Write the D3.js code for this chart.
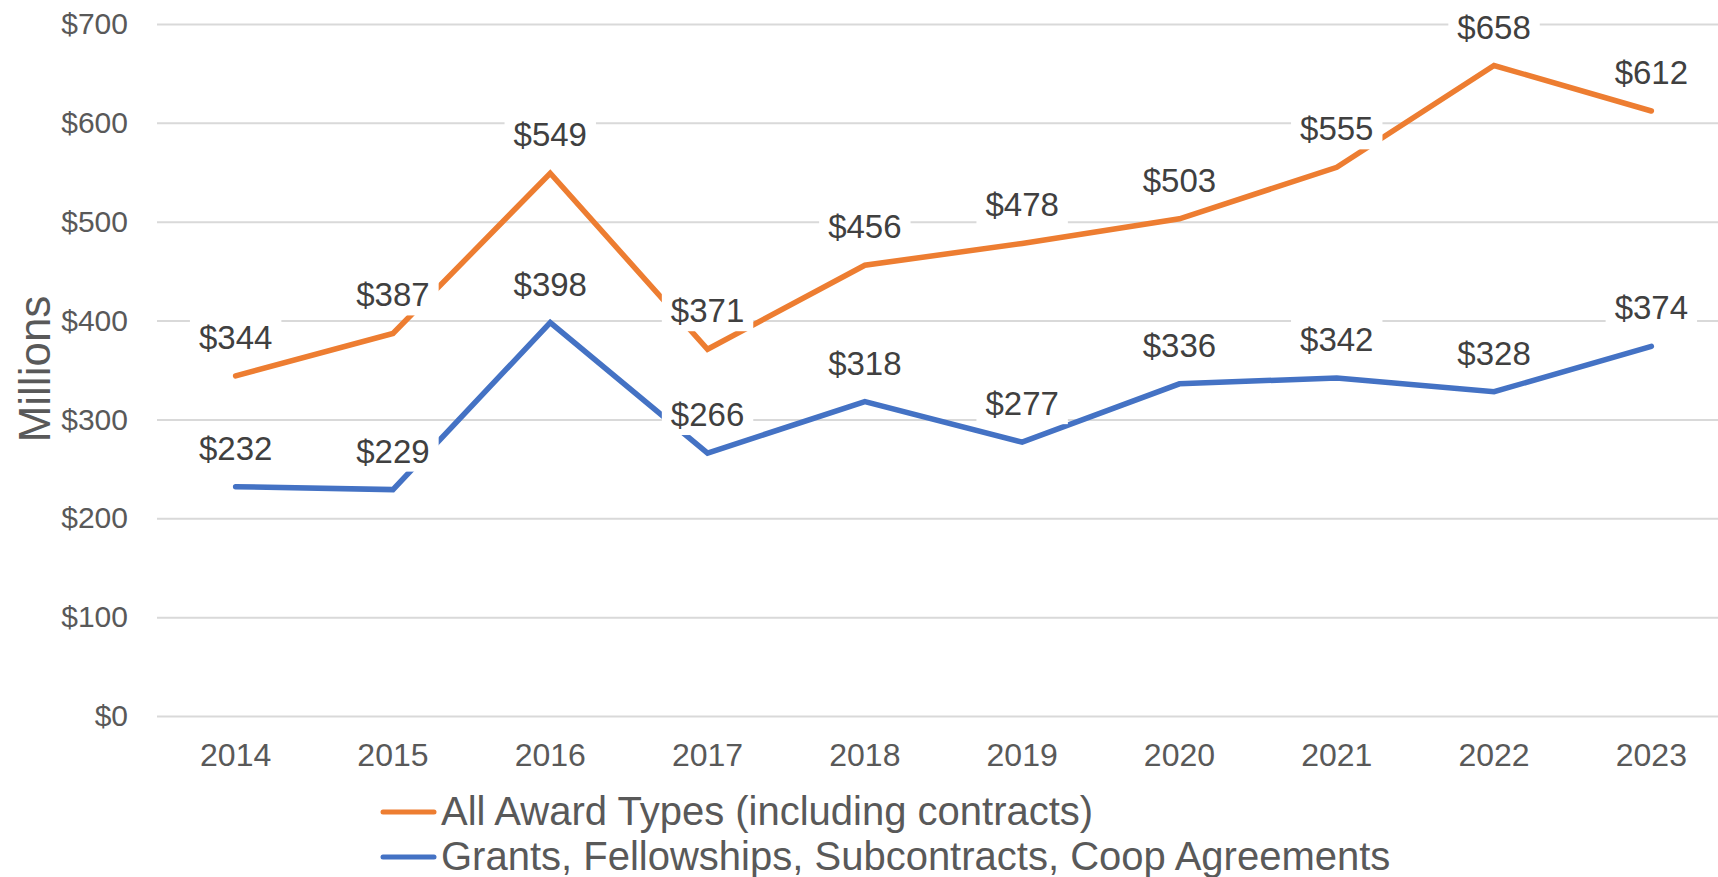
<!DOCTYPE html>
<html>
<head>
<meta charset="utf-8">
<script src="https://cdn.jsdelivr.net/npm/d3@7"></script>
<style>
  body { margin: 0; background: #fff; }
  svg { display: block; font-family: "Liberation Sans", Arial, sans-serif; }
</style>
</head>
<body>
<svg id="chart" width="1718" height="877"></svg>
<script>
const years = ['2014', '2015', '2016', '2017', '2018', '2019', '2020', '2021', '2022', '2023']
const allAwards = [344, 387, 549, 371, 456, 478, 503, 555, 658, 612]
const grants = [232, 229, 398, 266, 318, 277, 336, 342, 328, 374]
const yTicks = [0, 100, 200, 300, 400, 500, 600, 700]
const seriesNames = ['All Award Types (including contracts)', 'Grants, Fellowships, Subcontracts, Coop Agreements']

const colors = ['#ED7D31', '#4472C4']
const size = { width: 1718, height: 877 }
const plot = { left: 157, right: 1730, top: 24, bottom: 716 }

const svg = d3.select('#chart')

// scales
var x = d3.scaleBand().domain(years).range([plot.left, plot.right])
var y = d3.scaleLinear().domain([0, 700]).range([plot.bottom, plot.top])
const cx = d => x(d) + x.bandwidth() / 2
const money = v => '$' + v

// gridlines + y labels
const yAxis = svg.append('g')
    .attr('transform', `translate(${plot.left},0)`)
    .call(d3.axisLeft(y).tickValues(yTicks).tickSize(-(size.width - plot.left)).tickPadding(29).tickFormat(money))
yAxis.select('.domain').remove()
yAxis.selectAll('.tick line').attr('stroke', '#D9D9D9').attr('stroke-width', 2)
yAxis.selectAll('.tick text')
    .attr('fill', '#595959').attr('font-size', 30).attr('font-family', null)

// x labels
const xAxis = svg.append('g')
    .attr('transform', `translate(0,${plot.bottom})`)
    .call(d3.axisBottom(x).tickSize(0).tickPadding(27))
xAxis.select('.domain').remove()
xAxis.selectAll('.tick text')
    .attr('fill', '#595959').attr('font-size', 32).attr('font-family', null)

// y title
svg.append('text')
    .attr('transform', 'translate(50,369) rotate(-90)')
    .attr('text-anchor', 'middle')
    .attr('fill', '#595959')
    .attr('font-size', 44)
    .text('Millions')

// lines
const line = d3.line().x((d, i) => cx(years[i])).y(d => y(d))
const series = [allAwards, grants]
series.forEach((s, k) => {
    svg.append('path')
        .datum(s)
        .attr('fill', 'none')
        .attr('stroke', colors[k])
        .attr('stroke-width', 5.5)
        .attr('stroke-linejoin', 'miter')
        .attr('stroke-linecap', 'round')
        .attr('d', line)
})

// data labels with white boxes
series.forEach(s => {
    const g = svg.append('g')
    s.forEach((v, i) => {
        const lx = cx(years[i])
        const base = y(v) - 27
        const lab = g.append('g')
        const t = lab.append('text')
            .attr('x', lx).attr('y', base)
            .attr('text-anchor', 'middle')
            .attr('fill', '#404040')
            .attr('font-size', 33)
            .text(money(v))
        const bb = t.node().getBBox()
        lab.insert('rect', 'text')
            .attr('x', bb.x - 9).attr('y', bb.y - 4)
            .attr('width', bb.width + 18).attr('height', bb.height + 6)
            .attr('fill', '#fff')
    })
})

// legend
const legend = svg.append('g')
seriesNames.forEach((name, k) => {
    const ly = 812 + k * 45
    legend.append('line')
        .attr('x1', 383).attr('x2', 434)
        .attr('y1', ly).attr('y2', ly)
        .attr('stroke', colors[k]).attr('stroke-width', 5).attr('stroke-linecap', 'round')
    legend.append('text')
        .attr('x', 441).attr('y', ly + 13)
        .attr('fill', '#595959')
        .attr('font-size', 40)
        .text(name)
})
</script>
</body>
</html>
